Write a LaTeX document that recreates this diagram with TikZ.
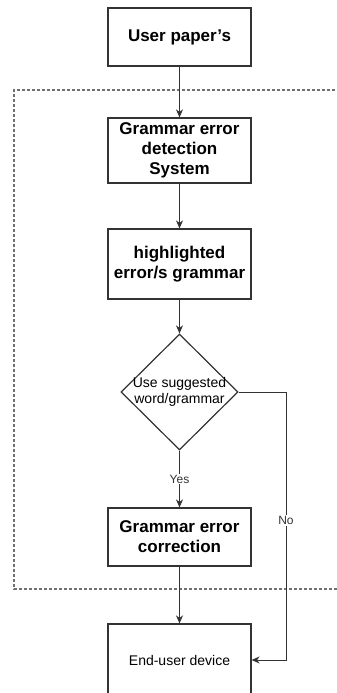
\documentclass[tikz,border=0pt]{standalone}
\usepackage{fontspec}
\setmainfont{Liberation Sans}
\usetikzlibrary{shapes.geometric,arrows.meta}

\definecolor{linegray}{HTML}{333333}
\definecolor{dashgray}{HTML}{707070}

\tikzset{
  stepbox/.style={draw=linegray, line width=1.2pt, fill=white,
    minimum width=143pt, inner sep=0pt, align=center,
    font=\fontsize{17}{20}\selectfont\bfseries},
  plainbox/.style={draw=linegray, line width=1.2pt, fill=white,
    minimum width=143pt, inner sep=0pt, align=center,
    font=\fontsize{14}{17}\selectfont},
  decision/.style={draw=linegray, line width=1.2pt, diamond, inner sep=0pt,
    minimum width=117pt, minimum height=116pt},
  decisiontext/.style={align=center, inner sep=0pt,
    font=\fontsize{14}{16.7}\selectfont},
  flow/.style={draw=linegray, line width=1pt,
    -{Stealth[length=8pt,width=7pt,inset=2.5pt]}},
  edgelabel/.style={fill=white, inner sep=1pt,
    font=\fontsize{12}{14}\selectfont, text=linegray},
  boundary/.style={draw=dashgray, line width=1.3pt, dash pattern=on 3pt off 2pt}
}

\begin{document}
\begin{tikzpicture}[x=1pt, y=-1pt]
  \clip (0,0) rectangle (337,693);
  \fill[white] (0,0) rectangle (337,693);

  % system boundary (open to the right)
  \draw[boundary] (345,90) -- (14,90) -- (14,589) -- (345,589);

  % process steps
  \node[stepbox, minimum height=58pt] (paper) at (179.5,37) {User paper's};
  \node[stepbox, minimum height=65pt] (detect) at (179.5,150.5)
    {Grammar error\\detection\\System};
  \node[stepbox, minimum height=70pt] (highlight) at (179.5,264)
    {highlighted\\error/s grammar};
  \node[decision] (choice) at (179.5,392) {};
  \node[decisiontext] (choicetext) at (choice.center)
    {Use suggested\\word/grammar};
  \node[stepbox, minimum height=58pt] (correct) at (179.5,537)
    {Grammar error\\correction};
  \node[plainbox, minimum height=72pt] (device) at (179.5,660)
    {End-user device};

  \coordinate (nocorner) at (286,392);

  % connectors
  \draw[flow] (paper) -- (detect);
  \draw[flow] (detect) -- (highlight);
  \draw[flow] (highlight) -- (choice);
  \draw[flow] (choice) -- node[edgelabel] {Yes} (correct);
  \draw[flow] (correct) -- (device);
  \draw[flow] (choice.east) -- (nocorner) |- node[edgelabel, pos=0.24] {No} (device.east);
\end{tikzpicture}
\end{document}
